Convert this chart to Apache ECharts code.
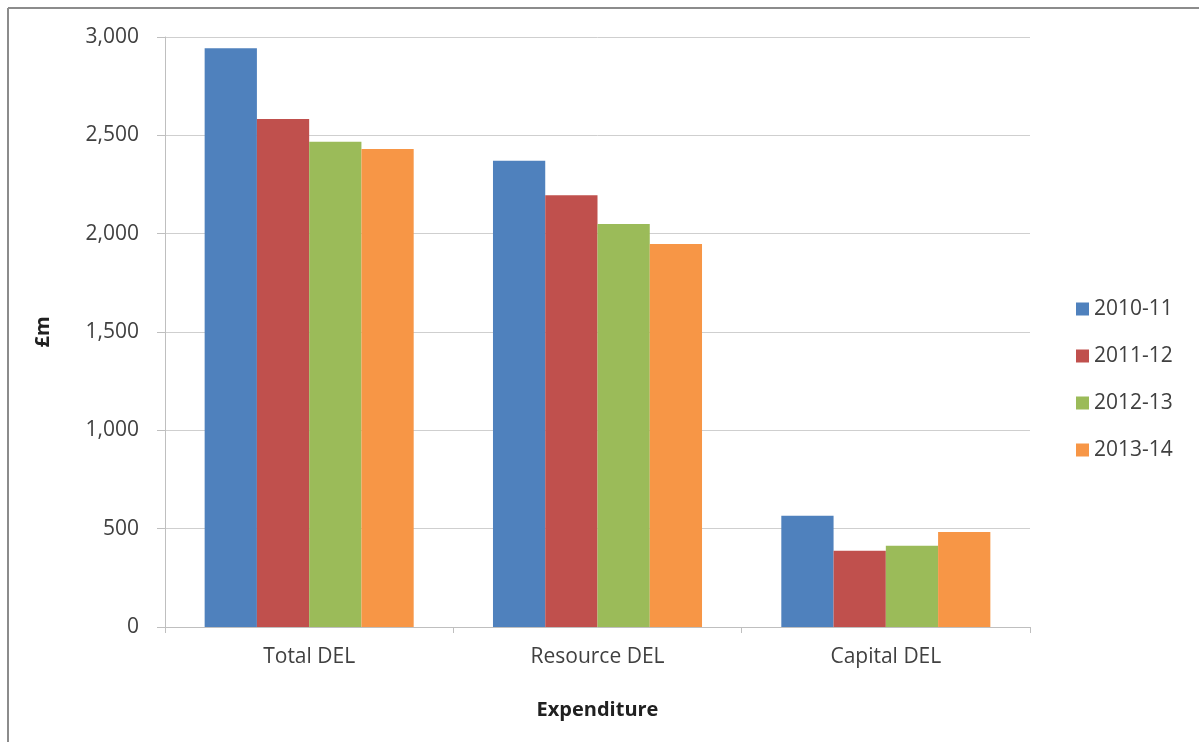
<!DOCTYPE html>
<html>
<head>
<meta charset="utf-8">
<style>
  html, body { margin: 0; padding: 0; background: #fff; }
  #chart { width: 1199px; height: 742px; }
</style>
<script src="https://cdn.jsdelivr.net/npm/echarts@6/dist/echarts.min.js"></script>
</head>
<body>
<div id="chart"></div>
<script>
// Departmental Expenditure Limits by year, £m
const categories = ['Total DEL', 'Resource DEL', 'Capital DEL'];
const years = ['2010-11', '2011-12', '2012-13', '2013-14'];
const values2010 = [2943, 2371, 566];
const values2011 = [2583, 2195, 388];
const values2012 = [2468, 2049, 413];
const values2013 = [2431, 1947, 483];
const seriesValues = [values2010, values2011, values2012, values2013];
const colors = ['#4F81BD', '#C0504D', '#9BBB59', '#F79646'];

const font = '"Open Sans", "Liberation Sans", sans-serif';

const chart = echarts.init(document.getElementById('chart'), null, { renderer: 'canvas' });

chart.setOption({
  animation: false,
  backgroundColor: '#ffffff',
  textStyle: { fontFamily: font },
  grid: { left: 165, right: 169, top: 37, bottom: 115, containLabel: false },
  legend: {
    orient: 'vertical',
    left: 1071,
    top: 293,
    itemWidth: 13,
    itemHeight: 13,
    itemGap: 25,
    icon: 'rect',
    data: years,
    textStyle: { fontSize: 21, lineHeight: 22, color: '#404040', fontFamily: font }
  },
  xAxis: {
    type: 'category',
    data: categories,
    name: 'Expenditure',
    nameLocation: 'middle',
    nameGap: 73,
    nameTextStyle: { fontSize: 20, fontWeight: 'bold', color: '#202020', fontFamily: font },
    axisLine: { lineStyle: { color: '#bfbfbf', width: 1 } },
    axisTick: { show: true, length: 6, lineStyle: { color: '#bfbfbf' } },
    axisLabel: { fontSize: 21, color: '#404040', margin: 20, fontFamily: font }
  },
  yAxis: {
    type: 'value',
    min: 0,
    max: 3000,
    interval: 500,
    name: '£m',
    nameLocation: 'middle',
    nameRotate: 90,
    nameGap: 112,
    nameTextStyle: { fontSize: 20, fontWeight: 'bold', color: '#202020', fontFamily: font },
    axisLine: { show: true, lineStyle: { color: '#bfbfbf', width: 1 } },
    axisTick: { show: true, length: 8, lineStyle: { color: '#bfbfbf' } },
    splitLine: { lineStyle: { color: '#cfcfcf', width: 1 } },
    axisLabel: {
      fontSize: 21,
      color: '#404040',
      margin: 26,
      fontFamily: font,
      formatter: v => v.toLocaleString('en-GB')
    }
  },
  series: years.map((y, i) => ({
    name: y,
    type: 'bar',
    data: seriesValues[i],
    itemStyle: { color: colors[i] },
    barGap: '0%',
    barCategoryGap: '27.5%'
  })),
  graphic: [
    { type: 'line', shape: { x1: 8, y1: 8, x2: 1199, y2: 8 }, style: { stroke: '#8c8c8c', lineWidth: 2 } },
    { type: 'line', shape: { x1: 8, y1: 8, x2: 8, y2: 742 }, style: { stroke: '#8c8c8c', lineWidth: 2 } }
  ]
});
</script>
</body>
</html>
